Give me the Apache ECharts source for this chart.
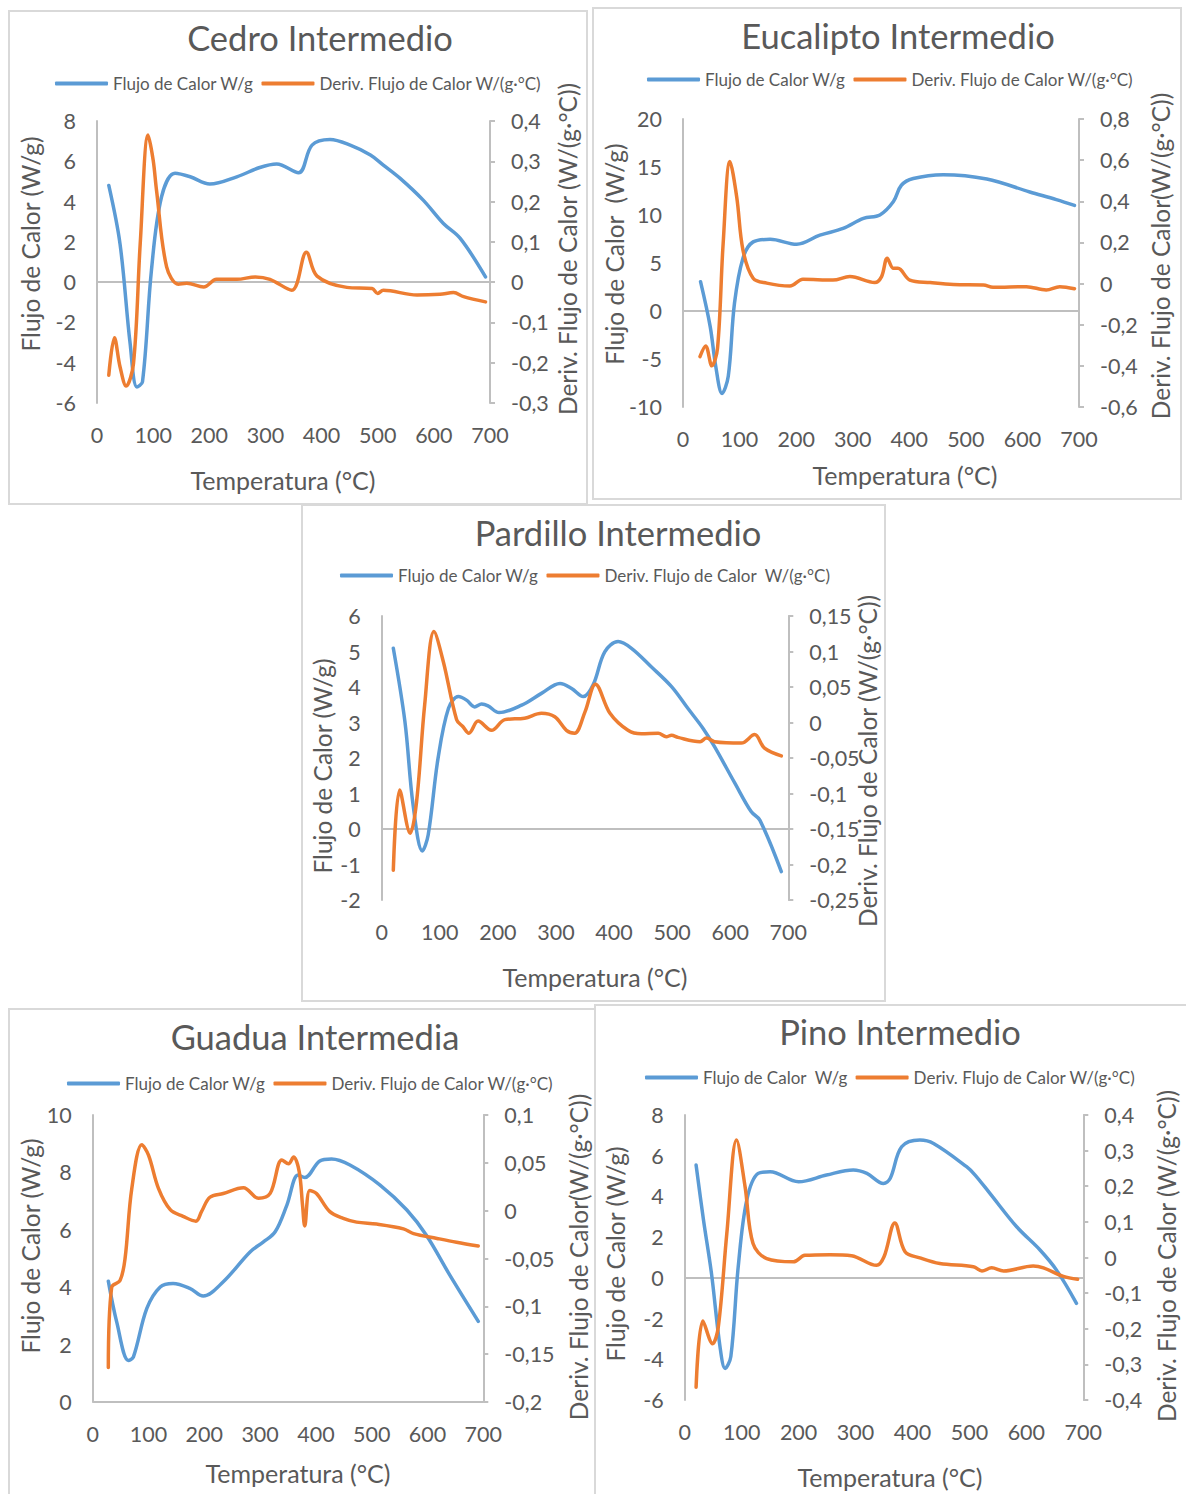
<!DOCTYPE html>
<html lang="es">
<head>
<meta charset="UTF-8">
<title>Flujo de Calor - Intermedio</title>
<script src="https://cdn.jsdelivr.net/npm/echarts@6/dist/echarts.min.js"></script>
<style>
    body {
        margin: 0;
        width: 1186px;
        height: 1494px;
        position: relative;
        overflow: hidden;
        background: #fff;
    }
    .panel {
        position: absolute;
        box-sizing: border-box;
        border: 2px solid #d9d9d9;
        background: #fff;
    }
    .panel > div {
        position: absolute;
        left: 0; top: 0; right: 0; bottom: 0;
    }
</style>
</head>
<body>
<div class="panel" id="p-cedro"><div></div></div>
<div class="panel" id="p-eucalipto"><div></div></div>
<div class="panel" id="p-pardillo"><div></div></div>
<div class="panel" id="p-guadua"><div></div></div>
<div class="panel" id="p-pino"><div></div></div>

<script>
// ---- datos ----
// Cedro
var cedroFlujoT = [21, 41, 59, 71, 81, 97, 115, 139, 166, 201, 249, 290, 320, 359, 383, 415, 451, 487, 510, 540, 581, 617, 647, 692];
var cedroFlujo  = [4.8, 1.9, -3.05, -5.2, -4.95, 0.6, 4.24, 5.4, 5.23, 4.87, 5.23, 5.69, 5.86, 5.43, 6.8, 7.08, 6.8, 6.31, 5.81, 5.15, 4.07, 2.91, 2.17, 0.26];
var cedroDerivT = [21, 31, 41, 52, 65, 77, 91, 100, 106, 124, 145, 160, 190, 213, 249, 282, 308, 347, 373, 392, 445, 490, 500, 510, 570, 611, 635, 653, 692];
var cedroDeriv  = [-0.231, -0.138, -0.21, -0.258, -0.202, 0.096, 0.365, 0.303, 0.228, 0.038, -0.005, -0.003, -0.012, 0.007, 0.007, 0.013, 0.007, -0.02, 0.074, 0.015, -0.013, -0.016, -0.028, -0.02, -0.032, -0.03, -0.026, -0.036, -0.049];

// Eucalipto
var eucaFlujoT = [31, 48, 58, 69, 80, 91, 106, 124, 154, 201, 242, 283, 319, 348, 372, 386, 407, 460, 537, 613, 660, 692];
var eucaFlujo  = [3.05, -1.6, -5.8, -8.6, -6.8, 0.8, 5.5, 7.2, 7.47, 6.95, 7.9, 8.6, 9.65, 10.0, 11.4, 13.1, 13.8, 14.2, 13.75, 12.4, 11.6, 11.0];
var eucaDerivT = [30, 40, 51, 61, 71, 83, 95, 106, 124, 148, 189, 212, 265, 295, 339, 351, 361, 372, 380, 401, 437, 478, 531, 548, 607, 642, 666, 692];
var eucaDeriv  = [-0.355, -0.303, -0.4, -0.315, 0.196, 0.593, 0.42, 0.163, 0.026, 0.002, -0.012, 0.021, 0.017, 0.034, 0.005, 0.034, 0.123, 0.074, 0.074, 0.017, 0.005, -0.005, -0.007, -0.018, -0.015, -0.031, -0.015, -0.025];

// Pardillo
var pardFlujoT = [20, 40, 54, 70, 80, 97, 115, 132, 146, 160, 172, 183, 202, 241, 275, 307, 327, 347, 364, 384, 407, 430, 464, 499, 527, 553, 573, 608, 636, 651, 688];
var pardFlujo  = [5.09, 3.02, 0.68, -0.62, -0.17, 1.99, 3.4, 3.73, 3.63, 3.44, 3.52, 3.47, 3.28, 3.49, 3.82, 4.1, 3.96, 3.73, 4.06, 4.99, 5.28, 5.09, 4.57, 4.01, 3.4, 2.84, 2.32, 1.29, 0.49, 0.25, -1.2];
var pardDerivT = [20, 31, 49, 60, 74, 90, 106, 129, 140, 150, 166, 189, 212, 246, 275, 298, 318, 332, 350, 368, 393, 424, 447, 476, 490, 499, 510, 548, 559, 573, 619, 642, 659, 688];
var pardDeriv  = [-0.208, -0.095, -0.156, -0.112, 0.025, 0.128, 0.086, 0.004, -0.006, -0.015, 0.002, -0.011, 0.004, 0.006, 0.013, 0.008, -0.011, -0.015, 0.015, 0.054, 0.013, -0.011, -0.016, -0.015, -0.02, -0.018, -0.021, -0.027, -0.022, -0.027, -0.029, -0.017, -0.036, -0.047];

// Guadua
var guadFlujoT = [28, 43, 64, 73, 97, 121, 144, 174, 198, 234, 282, 306, 327, 348, 368, 380, 407, 428, 461, 515, 563, 598, 640, 691];
var guadFlujo  = [4.21, 2.79, 1.45, 1.57, 3.26, 4.01, 4.13, 3.96, 3.69, 4.19, 5.23, 5.58, 5.93, 6.86, 7.91, 7.82, 8.4, 8.47, 8.26, 7.56, 6.69, 5.81, 4.42, 2.81];
var guadDerivT = [28, 34, 49, 58, 70, 88, 100, 118, 139, 162, 185, 195, 210, 234, 270, 297, 318, 339, 351, 360, 370, 376, 380, 389, 401, 425, 449, 473, 509, 557, 575, 617, 652, 691];
var guadDeriv  = [-0.164, -0.08, -0.073, -0.05, 0.023, 0.069, 0.058, 0.023, 0.001, -0.006, -0.011, -0.001, 0.014, 0.018, 0.024, 0.013, 0.018, 0.053, 0.049, 0.056, 0.041, 0.006, -0.016, 0.021, 0.018, -0.001, -0.008, -0.012, -0.014, -0.019, -0.024, -0.029, -0.033, -0.037];

// Pino
var pinoFlujoT = [20, 33, 47, 62, 71, 81, 94, 109, 129, 150, 200, 249, 296, 320, 349, 361, 381, 413, 437, 495, 510, 536, 583, 624, 653, 688];
var pinoFlujo  = [5.54, 2.84, 0.22, -3.38, -4.45, -3.87, 0.55, 3.82, 5.13, 5.21, 4.72, 5.05, 5.3, 5.13, 4.64, 4.89, 6.44, 6.77, 6.6, 5.46, 5.05, 4.15, 2.51, 1.37, 0.38, -1.25];
var pinoDerivT = [20, 32, 49, 59, 74, 91, 106, 120, 144, 191, 211, 255, 293, 337, 350, 369, 387, 413, 448, 507, 522, 539, 560, 612, 630, 665, 690];
var pinoDeriv  = [-0.364, -0.178, -0.242, -0.195, 0.068, 0.33, 0.199, 0.039, -0.003, -0.012, 0.006, 0.008, 0.005, -0.022, 0.002, 0.097, 0.016, -0.001, -0.017, -0.026, -0.038, -0.029, -0.038, -0.024, -0.029, -0.053, -0.061];

var tempTicks = [0, 700, 100];   // min, max, intervalo del eje X

// ---- diseño de cada panel (coordenadas de pagina) ----
var panels = [
    {
        id: 'p-cedro', box: [8, 10, 588, 505], grid: [97, 121, 490, 403],
        title: 'Cedro Intermedio', titlePos: [320, 37], legendPos: [55, 84],
        flujoName: 'Flujo de Calor W/g', derivName: 'Deriv. Flujo de Calor W/(g\u00b7\u00b0C)',
        leftName: 'Flujo de Calor (W/g)', leftNamePos: [30, 244],
        rightName: 'Deriv. Flujo de Calor (W/(g\u00b7\u00b0C))', rightNamePos: [567, 249],
        xNamePos: [283, 480],
        left: [-6, 8, 2], right: [-0.3, 0.4, 0.1],
        flujoT: cedroFlujoT, flujo: cedroFlujo, derivT: cedroDerivT, deriv: cedroDeriv
    },
    {
        id: 'p-eucalipto', box: [592, 7, 1182, 500], grid: [683, 119, 1079, 407],
        title: 'Eucalipto Intermedio', titlePos: [898, 35], legendPos: [647, 80],
        flujoName: 'Flujo de Calor W/g', derivName: 'Deriv. Flujo de Calor W/(g\u00b7\u00b0C)',
        leftName: 'Flujo de Calor  (W/g)', leftNamePos: [614, 254],
        rightName: 'Deriv. Flujo de Calor(W/(g\u00b7\u00b0C))', rightNamePos: [1160, 256],
        xNamePos: [905, 475],
        left: [-10, 20, 5], right: [-0.6, 0.8, 0.2],
        flujoT: eucaFlujoT, flujo: eucaFlujo, derivT: eucaDerivT, deriv: eucaDeriv
    },
    {
        id: 'p-pardillo', box: [301, 504, 886, 1002], grid: [381.7, 616, 788.3, 900],
        title: 'Pardillo Intermedio', titlePos: [618, 532], legendPos: [340, 576],
        flujoName: 'Flujo de Calor W/g', derivName: 'Deriv. Flujo de Calor \u00a0W/(g\u00b7\u00b0C)',
        leftName: 'Flujo de Calor (W/g)', leftNamePos: [322, 766],
        rightName: 'Deriv. Flujo de Calor (W/(g\u00b7\u00b0C))', rightNamePos: [867, 761],
        xNamePos: [595, 977],
        left: [-2, 6, 1], right: [-0.25, 0.15, 0.05],
        flujoT: pardFlujoT, flujo: pardFlujo, derivT: pardDerivT, deriv: pardDeriv
    },
    {
        id: 'p-guadua', box: [8, 1008, 596, 1500], grid: [92.7, 1115, 483.3, 1402],
        title: 'Guadua Intermedia', titlePos: [315, 1036], legendPos: [67, 1084],
        flujoName: 'Flujo de Calor W/g', derivName: 'Deriv. Flujo de Calor W/(g\u00b7\u00b0C)',
        leftName: 'Flujo de Calor (W/g)', leftNamePos: [30, 1246],
        rightName: 'Deriv. Flujo de Calor(W/(g\u00b7\u00b0C))', rightNamePos: [578, 1257],
        xNamePos: [298, 1473],
        left: [0, 10, 2], right: [-0.2, 0.1, 0.05],
        flujoT: guadFlujoT, flujo: guadFlujo, derivT: guadDerivT, deriv: guadDeriv
    },
    {
        id: 'p-pino', box: [594, 1004, 1188, 1500], grid: [684.7, 1115, 1083.3, 1400],
        title: 'Pino Intermedio', titlePos: [900, 1031], legendPos: [645, 1078],
        flujoName: 'Flujo de Calor \u00a0W/g', derivName: 'Deriv. Flujo de Calor W/(g\u00b7\u00b0C)',
        leftName: 'Flujo de Calor (W/g)', leftNamePos: [615, 1254],
        rightName: 'Deriv. Flujo de Calor (W/(g\u00b7\u00b0C))', rightNamePos: [1166, 1256],
        xNamePos: [890, 1477],
        left: [-6, 8, 2], right: [-0.4, 0.4, 0.1],
        flujoT: pinoFlujoT, flujo: pinoFlujo, derivT: pinoDerivT, deriv: pinoDeriv
    }
];

var FONT = 'Lato, "Open Sans", sans-serif';
var TXT = '#595959';
var AXIS = '#bfbfbf';
var BLUE = '#5b9bd5';
var ORANGE = '#ed7d31';
var BORDER = 2;

function fmt(v) {
    return String(+v.toFixed(3)).replace('.', ',');
}

function pairs(t, v) {
    return t.map(function (x, i) { return [x, v[i]]; });
}

function label(text, x, y, size, rotate) {
    return {
        type: 'text', x: x, y: y, rotation: rotate ? Math.PI / 2 : 0, silent: true,
        style: {
            text: text, fill: TXT, font: size + 'px ' + FONT,
            align: 'center', verticalAlign: 'middle',
            textAlign: 'center', textVerticalAlign: 'middle'
        }
    };
}

function drawPanel(p) {
    var el = document.getElementById(p.id);
    el.style.left = p.box[0] + 'px';
    el.style.top = p.box[1] + 'px';
    el.style.width = (p.box[2] - p.box[0]) + 'px';
    el.style.height = (p.box[3] - p.box[1]) + 'px';

    // origen del canvas dentro del borde
    var ox = p.box[0] + BORDER, oy = p.box[1] + BORDER;
    var cw = p.box[2] - p.box[0] - 2 * BORDER;
    var ch = p.box[3] - p.box[1] - 2 * BORDER;

    var chart = echarts.init(el.firstElementChild, null, { renderer: 'svg' });

    var axisLabel = { color: TXT, fontSize: 21.5, fontFamily: FONT, margin: 21, formatter: fmt };

    chart.setOption({
        animation: false,
        textStyle: { fontFamily: FONT },
        grid: {
            left: p.grid[0] - ox, top: p.grid[1] - oy,
            right: cw - (p.grid[2] - ox), bottom: ch - (p.grid[3] - oy)
        },
        legend: {
            left: p.legendPos[0] - ox - 5, top: p.legendPos[1] - oy - 14,
            icon: 'roundRect', itemWidth: 53, itemHeight: 4, itemGap: 8,
            textStyle: { color: TXT, fontSize: 17, fontFamily: FONT },
            data: [p.flujoName, p.derivName]
        },
        xAxis: {
            type: 'value', min: tempTicks[0], max: tempTicks[1], interval: tempTicks[2],
            axisLine: { show: false }, axisTick: { show: false }, splitLine: { show: false },
            axisLabel: { color: TXT, fontSize: 21.5, fontFamily: FONT, margin: 21 }
        },
        yAxis: [
            {
                type: 'value', position: 'left', min: p.left[0], max: p.left[1], interval: p.left[2],
                axisLine: { show: true, lineStyle: { color: AXIS, width: 2 } },
                axisTick: { show: false }, splitLine: { show: false },
                axisLabel: axisLabel
            },
            {
                type: 'value', position: 'right', min: p.right[0], max: p.right[1], interval: p.right[2],
                axisLine: { show: true, lineStyle: { color: AXIS, width: 2 } },
                axisTick: { show: true, length: 5, lineStyle: { color: AXIS, width: 2 } },
                splitLine: { show: false },
                axisLabel: axisLabel
            }
        ],
        graphic: [
            label(p.title, p.titlePos[0] - ox, p.titlePos[1] - oy, 34.5, false),
            label(p.leftName, p.leftNamePos[0] - ox, p.leftNamePos[1] - oy, 24.5, true),
            label(p.rightName, p.rightNamePos[0] - ox, p.rightNamePos[1] - oy, 24.5, true),
            label('Temperatura (\u00b0C)', p.xNamePos[0] - ox, p.xNamePos[1] - oy, 25, false)
        ],
        series: [
            {
                name: p.flujoName, type: 'line', yAxisIndex: 0, color: BLUE,
                showSymbol: false, smooth: 0.35, z: 3,
                lineStyle: { width: 3.5, color: BLUE, cap: 'round', join: 'round' },
                data: pairs(p.flujoT, p.flujo),
                markLine: {
                    silent: true, symbol: 'none', label: { show: false }, z: 1,
                    lineStyle: { color: AXIS, width: 2, type: 'solid' },
                    data: [{ yAxis: 0 }]
                }
            },
            {
                name: p.derivName, type: 'line', yAxisIndex: 1, color: ORANGE,
                showSymbol: false, smooth: 0.35, z: 4,
                lineStyle: { width: 3.5, color: ORANGE, cap: 'round', join: 'round' },
                data: pairs(p.derivT, p.deriv)
            }
        ]
    });
}

panels.forEach(drawPanel);
</script>
</body>
</html>
